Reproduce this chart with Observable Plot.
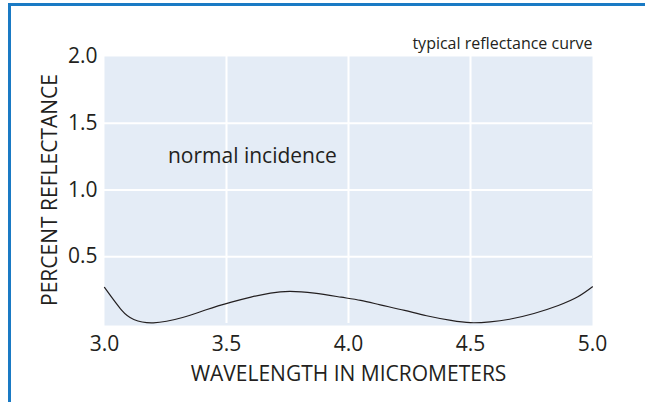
<!DOCTYPE html>
<html>
<head>
<meta charset="utf-8">
<script src="https://cdn.jsdelivr.net/npm/d3@7"></script>
<script src="https://cdn.jsdelivr.net/npm/@observablehq/plot@0.6"></script>
<style>
  html, body { margin: 0; padding: 0; background: #fff; }
  #wrap { position: relative; width: 645px; height: 402px; overflow: hidden; }
  #border { position: absolute; left: 8px; top: 3px; width: 700px; height: 396px; border: 3px solid #1a7ac4; box-sizing: content-box; pointer-events: none; }
  #chart { position: absolute; left: 0; top: 0; }
</style>
</head>
<body>
<div id="wrap"><div id="chart"></div><div id="border"></div></div>
<script>
// Wavelength (micrometers) and percent reflectance
const wavelength = [3.0, 3.07, 3.12, 3.2, 3.32, 3.42, 3.52, 3.6, 3.68, 3.76, 3.86, 3.97, 4.05, 4.13, 4.23, 4.32, 4.42, 4.5, 4.58, 4.66, 4.76, 4.86, 4.94, 5.0];
const reflectance = [0.27, 0.10, 0.03, 0.005, 0.045, 0.105, 0.16, 0.198, 0.228, 0.24, 0.227, 0.197, 0.173, 0.14, 0.098, 0.058, 0.023, 0.006, 0.012, 0.032, 0.075, 0.135, 0.2, 0.275];

const xTicks = [3.0, 3.5, 4.0, 4.5, 5.0];
const yTicks = [0.5, 1.0, 1.5, 2.0];
const xGrid = [3.5, 4.0, 4.5];
const yGrid = [0.5, 1.0, 1.5];

const xTitle = "WAVELENGTH IN MICROMETERS";
const yTitle = "PERCENT REFLECTANCE";
const cornerNote = "typical reflectance curve";
const annotation = [{x: 3.26, y: 1.25, text: "normal incidence"}];

const data = wavelength.map((w, i) => ({w, r: reflectance[i]}));
const fmt = d => d.toFixed(1);

const chart = Plot.plot({
  width: 645,
  height: 402,
  marginLeft: 104,
  marginRight: 53,
  marginTop: 56,
  marginBottom: 79,
  style: {fontFamily: "'Open Sans', sans-serif", color: "#231f20", background: "transparent", overflow: "visible"},
  x: {domain: [3, 5], axis: null},
  y: {domain: [0, 2], axis: null},
  marks: [
    Plot.frame({fill: "#e4ecf6", stroke: null, insetBottom: -2}),
    Plot.gridX(xGrid, {stroke: "#ffffff", strokeOpacity: 1, strokeWidth: 2}),
    Plot.gridY(yGrid, {stroke: "#ffffff", strokeOpacity: 1, strokeWidth: 2}),
    Plot.axisX(xTicks, {tickSize: 0, tickPadding: 13, fontSize: 21, tickFormat: fmt, label: null, fill: "#231f20"}),
    Plot.axisY(yTicks, {tickSize: 0, tickPadding: 7, fontSize: 21, tickFormat: fmt, label: null, fill: "#231f20"}),
    Plot.line(data, {x: "w", y: "r", curve: "natural", stroke: "#231f20", strokeWidth: 1.2}),
    Plot.text([xTitle], {frameAnchor: "bottom", lineAnchor: "middle", dy: 51, fontSize: 21, fill: "#231f20"}),
    Plot.text([yTitle], {frameAnchor: "left", textAnchor: "middle", lineAnchor: "middle", dx: -54, rotate: -90, fontSize: 21, fill: "#231f20"}),
    Plot.text([cornerNote], {frameAnchor: "top-right", textAnchor: "end", lineAnchor: "middle", dy: -13, fontSize: 16, fill: "#231f20"}),
    Plot.text(annotation, {x: "x", y: "y", text: "text", textAnchor: "start", lineAnchor: "middle", fontSize: 21, fill: "#231f20"})
  ]
});
document.getElementById("chart").appendChild(chart);
</script>
</body>
</html>
